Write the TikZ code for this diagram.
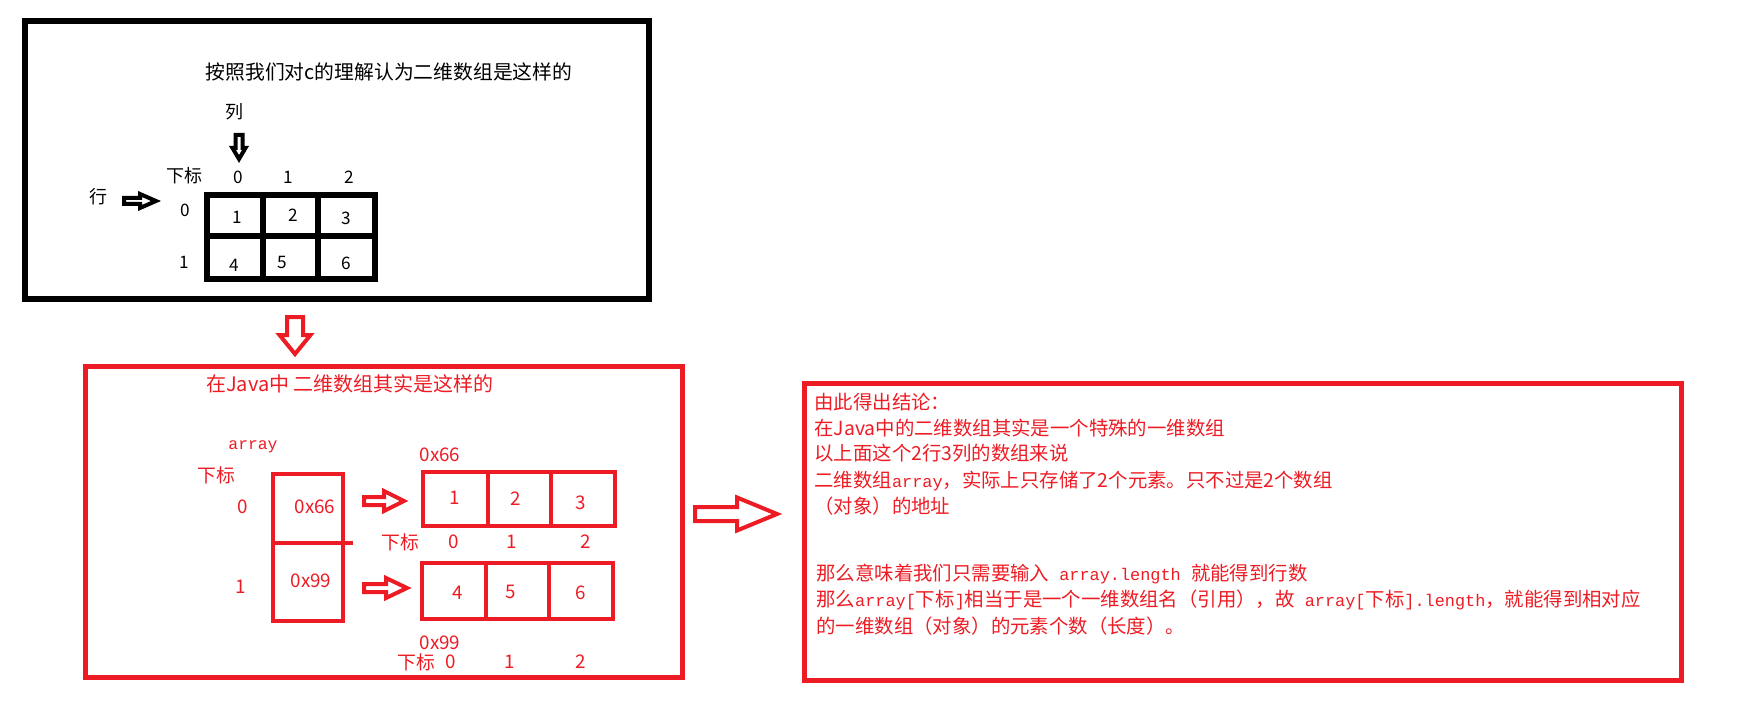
\documentclass[tikz,border=0pt]{standalone}
\usepackage{fontspec}
\setmainfont{Noto Sans CJK SC}
\newfontfamily\hwfont[Scale=0.87]{Liberation Mono}
\definecolor{pred}{RGB}{237,28,36}
\newcommand\rightblk[6]{({#1},{#4-#5}) -- ({#2},{#4-#5}) -- ({#2},{#4-#6}) -- ({#3},{#4}) -- ({#2},{#4+#6}) -- ({#2},{#4+#5}) -- ({#1},{#4+#5}) -- cycle}
\newcommand\downblk[6]{({#4-#5},{#1}) -- ({#4-#5},{#2}) -- ({#4-#6},{#2}) -- ({#4},{#3}) -- ({#4+#6},{#2}) -- ({#4+#5},{#2}) -- ({#4+#5},{#1}) -- cycle}
\begin{document}
\begin{tikzpicture}[x=0.5pt,y=-0.5pt,
  tb/.style={inner sep=0pt, font=\fontsize{9}{11}\selectfont},
  tnum/.style={inner sep=0pt, font=\fontsize{8.6}{10}\selectfont},
  rt/.style={inner sep=0pt, text=pred, font=\fontsize{9.4}{11}\selectfont},
  ct/.style={inner sep=0pt, text=pred, anchor=west, font=\fontsize{9.7}{11}\selectfont},
  blkbox/.style={draw=black, line width=3pt},
  gridline/.style={draw=black, line width=3pt},
  redbox/.style={draw=pred, line width=2.5pt},
  redcell/.style={draw=pred, line width=2.2pt},
  blkarrow/.style={draw=black, line width=2pt},
  redarrow/.style={draw=pred, line width=2pt}]
\useasboundingbox (0,0) rectangle (1744,727);

% ---------- top black box ----------
\draw[blkbox] (25,21) rectangle (649,299);
\node[inner sep=0pt, font=\fontsize{9.9}{12}\selectfont] (ttl) at (389,72) {按照我们对c的理解认为二维数组是这样的};
\node[tb] (lie) at (234,112) {列};
\draw[blkarrow] \downblk{135}{148}{159}{239}{3.5}{6.5};
\node[tb] (hang) at (98,197) {行};
\draw[blkarrow] \rightblk{124}{140}{156}{201}{3}{7};
\node[tb] (xb) at (184,176) {下标};
\node[tnum] (c0) at (238,177) {0};
\node[tnum] (c1) at (288,177) {1};
\node[tnum] (c2) at (349,177) {2};
\node[tnum] (r0) at (185,210) {0};
\node[tnum] (r1) at (184,262) {1};
\draw[gridline] (207,195) rectangle (375,279);
\draw[gridline] (207,236) -- (375,236);
\draw[gridline] (263,195) -- (263,279);
\draw[gridline] (318,195) -- (318,279);
\node[tnum] (v1) at (237,217) {1};
\node[tnum] (v2) at (293,215) {2};
\node[tnum] (v3) at (346,218) {3};
\node[tnum] (v4) at (234,265) {4};
\node[tnum] (v5) at (282,262) {5};
\node[tnum] (v6) at (346,263) {6};

% ---------- red down arrow ----------
\draw[redarrow] \downblk{317}{335}{354}{295}{8}{15.5};

% ---------- red box 1 ----------
\draw[redbox] (85,366) rectangle (682,677);
\node[inner sep=0pt, text=pred, font=\fontsize{10}{12}\selectfont] (jt) at (350,384) {在Java中 二维数组其实是这样的};
\node[rt] (arr) at (253,447) {\hwfont array};
\node[rt] (xb2) at (216,475) {下标};
\node[rt] (a0) at (243,507) {0};
\node[rt] (a1) at (241,587) {1};
\draw[redcell] (273,474) rectangle (343,621);
\draw[redcell] (273,543) -- (353,543);
\node[rt] (p66) at (315,507) {0x66};
\node[rt] (p99) at (311,581) {0x99};

\draw[redarrow] \rightblk{364}{384}{404}{501}{4}{10};
\draw[redarrow] \rightblk{364}{386}{407}{588}{4}{10};

\node[rt] (l66) at (440,455) {0x66};
\draw[redcell] (423,472) rectangle (615,526);
\draw[redcell] (488,472) -- (488,526);
\draw[redcell] (551,472) -- (551,526);
\node[rt] (w1) at (455,498) {1};
\node[rt] (w2) at (516,499) {2};
\node[rt] (w3) at (581,503) {3};
\node[rt] (s1) at (400,542) {下标};
\node[rt] (s10) at (454,542) {0};
\node[rt] (s11) at (512,542) {1};
\node[rt] (s12) at (586,542) {2};

\draw[redcell] (422,563) rectangle (613,619);
\draw[redcell] (486,563) -- (486,619);
\draw[redcell] (549,563) -- (549,619);
\node[rt] (w4) at (458,593) {4};
\node[rt] (w5) at (511,592) {5};
\node[rt] (w6) at (581,593) {6};
\node[rt] (l99) at (440,643) {0x99};
\node[rt] (s2) at (416,662) {下标};
\node[rt] (s20) at (451,662) {0};
\node[rt] (s21) at (510,662) {1};
\node[rt] (s22) at (581,662) {2};

% ---------- big red arrow ----------
\draw[redarrow] \rightblk{695}{737}{777}{514}{7}{16.5};

% ---------- red box 2 ----------
\draw[redbox] (804,383) rectangle (1681,680);
\node[ct] (k1) at (814,402) {由此得出结论：};
\node[ct] (k2) at (814,428) {在Java中的二维数组其实是一个特殊的一维数组};
\node[ct] (k3) at (814,453) {以上面这个2行3列的数组来说};
\node[ct] (k4) at (814,481) {二维数组{\hwfont array}，实际上只存储了2个元素。只不过是2个数组};
\node[ct] (k5) at (814,506) {（对象）的地址};
\node[ct] (k6) at (816,574) {那么意味着我们只需要输入{\hwfont\ array.length\ }就能得到行数};
\node[ct] (k7) at (816,600) {那么{\hwfont array[}下标{\hwfont ]}相当于是一个一维数组名（引用），故{\hwfont\ array[}下标{\hwfont ].length}，就能得到相对应};
\node[ct] (k8) at (816,626) {的一维数组（对象）的元素个数（长度）。};
\end{tikzpicture}
\end{document}
